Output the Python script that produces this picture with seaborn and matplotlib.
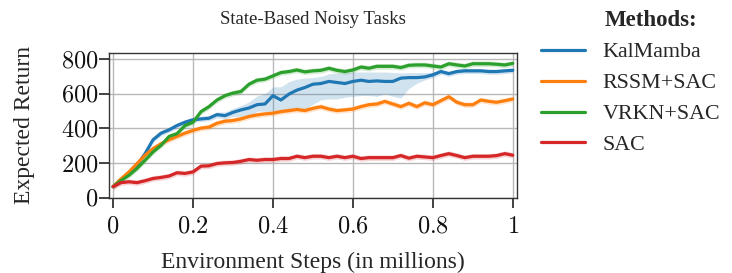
import numpy as np
import pandas as pd
import seaborn as sns
import matplotlib.pyplot as plt
from matplotlib.lines import Line2D
from matplotlib.ticker import FuncFormatter

steps = [0.00, 0.02, 0.04, 0.06, 0.08, 0.10, 0.12, 0.14, 0.16, 0.18,
         0.20, 0.22, 0.24, 0.26, 0.28, 0.30, 0.32, 0.34, 0.36, 0.38,
         0.40, 0.42, 0.44, 0.46, 0.48, 0.50, 0.52, 0.54, 0.56, 0.58,
         0.60, 0.62, 0.64, 0.66, 0.68, 0.70, 0.72, 0.74, 0.76, 0.78,
         0.80, 0.82, 0.84, 0.86, 0.88, 0.90, 0.92, 0.94, 0.96, 0.98, 1.00]

kalmamba = [65, 105, 141, 189, 255, 335, 373, 392, 417, 436,
            450, 455, 459, 480, 474, 493, 507, 518, 537, 541,
            589, 564, 598, 621, 636, 655, 659, 671, 665, 659,
            671, 678, 671, 674, 671, 671, 690, 693, 693, 697,
            709, 728, 716, 728, 732, 732, 732, 728, 728, 732, 735]
rssm_sac = [65, 110, 150, 198, 246, 284, 312, 335, 354, 373,
            389, 402, 408, 430, 442, 446, 455, 469, 478, 484,
            488, 497, 503, 509, 503, 516, 525, 512, 503, 507,
            512, 526, 537, 541, 556, 541, 526, 545, 526, 548,
            537, 560, 583, 551, 537, 537, 564, 556, 551, 560, 570]
vrkn_sac = [65, 100, 131, 170, 217, 265, 303, 354, 370, 417,
            436, 497, 526, 564, 589, 604, 613, 655, 678, 684,
            703, 722, 728, 737, 726, 732, 735, 747, 735, 728,
            737, 754, 747, 758, 758, 758, 751, 764, 766, 766,
            760, 754, 773, 766, 760, 773, 773, 773, 770, 766, 775]
sac = [65, 88, 93, 88, 99, 112, 118, 126, 145, 141,
       150, 183, 185, 198, 202, 204, 211, 221, 217, 221,
       221, 227, 227, 240, 232, 240, 240, 232, 240, 232,
       240, 227, 232, 232, 232, 232, 244, 229, 240, 236,
       232, 244, 255, 244, 232, 240, 240, 240, 244, 255, 246]

# KalMamba has a wide, uneven band in the middle of training
kalmamba_lower = [55, 92, 128, 175, 240, 320, 358, 378, 402, 421,
                  435, 440, 444, 462, 455, 470, 465, 460, 500, 500,
                  500, 500, 505, 505, 510, 540, 565, 570, 570, 580,
                  585, 590, 590, 585, 600, 585, 575, 630, 660, 680,
                  693, 712, 700, 712, 716, 716, 716, 712, 712, 716, 720]
kalmamba_upper = [75, 118, 154, 203, 270, 350, 388, 406, 432, 451,
                  465, 470, 474, 495, 495, 515, 532, 553, 587, 601,
                  640, 640, 670, 685, 690, 693, 700, 715, 720, 722,
                  725, 725, 725, 725, 725, 722, 720, 722, 722, 722,
                  724, 742, 730, 742, 746, 746, 746, 742, 742, 746, 749]
band_rssm = 16
band_vrkn = 16
band_sac = 16

methods = ["KalMamba", "RSSM+SAC", "VRKN+SAC", "SAC"]
colors = ["#1f77b4", "#ff7f0e", "#2ca02c", "#d62728"]

frames = []
for name, vals in zip(methods, [kalmamba, rssm_sac, vrkn_sac, sac]):
    frames.append(pd.DataFrame({"step": steps, "ret": vals, "method": name}))
df = pd.concat(frames, ignore_index=True)

sns.set_style("ticks")
plt.rcParams["font.family"] = ["Liberation Serif", "DejaVu Serif"]
plt.rcParams["mathtext.fontset"] = "cm"

fig = plt.figure(figsize=(7.32, 2.73), dpi=100)
ax = fig.add_axes([0.149, 0.275, 0.557, 0.531])

s = np.array(steps)
ax.fill_between(s, kalmamba_lower, kalmamba_upper, color=colors[0], alpha=0.2, lw=0)
for vals, band, c in [(rssm_sac, band_rssm, colors[1]), (vrkn_sac, band_vrkn, colors[2]),
                      (sac, band_sac, colors[3])]:
    v = np.array(vals)
    ax.fill_between(s, v - band, v + band, color=c, alpha=0.2, lw=0)

sns.lineplot(data=df, x="step", y="ret", hue="method", hue_order=methods,
             palette=colors, linewidth=2.3, ax=ax, legend=False)

ax.set_xlim(-0.01, 1.01)
ax.set_ylim(0, 835)
ax.set_xticks([0, 0.2, 0.4, 0.6, 0.8, 1.0])
ax.set_yticks([0, 200, 400, 600, 800])
fmt = FuncFormatter(lambda v, p: f"${v:g}$")
ax.xaxis.set_major_formatter(fmt)
ax.yaxis.set_major_formatter(fmt)
ax.tick_params(axis="both", labelsize=17.5, labelcolor="#111111")
ax.tick_params(axis="x", pad=10)
ax.tick_params(axis="y", pad=4)
ax.grid(True, color="#b8b8b8", linewidth=1.0)
ax.set_axisbelow(True)
for sp in ax.spines.values():
    sp.set_color("#333333")
    sp.set_linewidth(1.0)

ax.set_title("State-Based Noisy Tasks", fontsize=13.5, pad=21)
ax.set_xlabel("Environment Steps (in millions)", fontsize=17, labelpad=10)
ax.set_ylabel("Expected Return", fontsize=17, labelpad=19)

# draw tick marks explicitly so they always show
for t in ax.xaxis.get_major_ticks() + ax.yaxis.get_major_ticks():
    t.tick1line.set_visible(True)
    t.tick1line.set_markersize(7)
    t.tick1line.set_markeredgewidth(1.2)
    t.tick1line.set_color("#222222")
    t.tick1line.set_markeredgecolor("#222222")
    t.tick1line.set_clip_on(False)

handles = [Line2D([], [], color=c, lw=2.3) for c in colors]
fig.legend(handles, methods, loc="upper left", bbox_to_anchor=(0.712, 0.918),
           frameon=False, fontsize=15.8, handlelength=2.03, handletextpad=0.78,
           labelspacing=0.48)
fig.text(0.826, 0.925, "Methods:", fontsize=16.5, fontweight="bold", ha="left", va="center")

fig.savefig("out.png", dpi=100)
